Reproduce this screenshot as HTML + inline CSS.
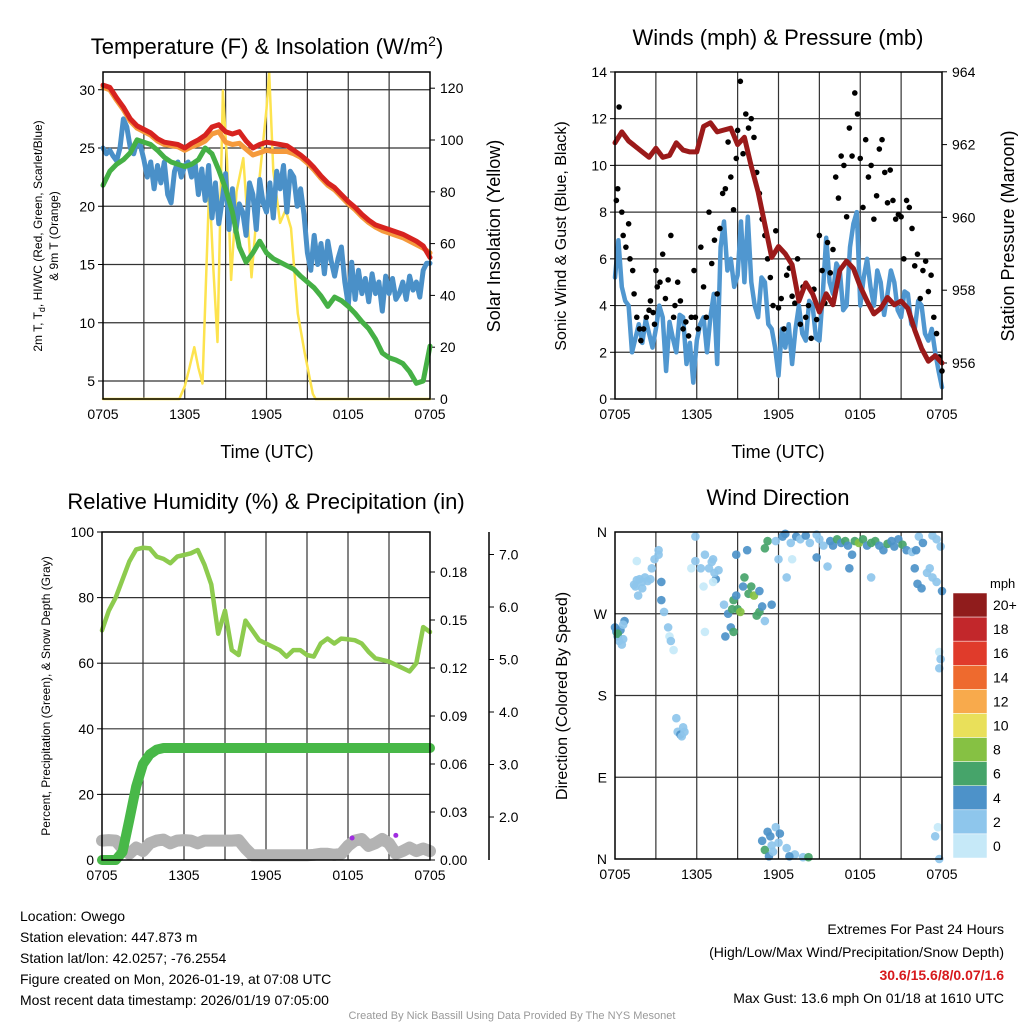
<!DOCTYPE html>
<html><head><meta charset="utf-8"><style>
body{margin:0;background:#fff;}
svg text{font-family:"Liberation Sans",sans-serif;fill:#000;}
</style></head><body>
<svg id="c" width="1024" height="1024" viewBox="0 0 1024 1024" xmlns="http://www.w3.org/2000/svg">
<rect width="1024" height="1024" fill="#fff"/>
<text x="267" y="54" font-size="22" text-anchor="middle">Temperature (F) &amp; Insolation (W/m<tspan dy="-8" font-size="14">2</tspan><tspan dy="8">)</tspan></text>
<text x="778" y="45" font-size="22" text-anchor="middle">Winds (mph) &amp; Pressure (mb)</text>
<text x="266" y="509" font-size="22" text-anchor="middle">Relative Humidity (%) &amp; Precipitation (in)</text>
<text x="778" y="505" font-size="22" text-anchor="middle">Wind Direction</text>
<text x="267" y="458" font-size="18" text-anchor="middle">Time (UTC)</text>
<text x="778" y="458" font-size="18" text-anchor="middle">Time (UTC)</text>
<text transform="translate(42,236) rotate(-90)" font-size="12" text-anchor="middle">2m T, T<tspan dy="3" font-size="9">d</tspan><tspan dy="-3">, HI/WC (Red, Green, Scarlet/Blue)</tspan></text>
<text transform="translate(58,236) rotate(-90)" font-size="12" text-anchor="middle">&amp; 9m T (Orange)</text>
<text transform="translate(500,236) rotate(-90)" font-size="18" text-anchor="middle">Solar Insolation (Yellow)</text>
<text transform="translate(566,236) rotate(-90)" font-size="16" text-anchor="middle">Sonic Wind &amp; Gust (Blue, Black)</text>
<text transform="translate(1014,236) rotate(-90)" font-size="18" text-anchor="middle">Station Pressure (Maroon)</text>
<text transform="translate(50,696) rotate(-90)" font-size="12" text-anchor="middle">Percent, Precipitation (Green), &amp; Snow Depth (Gray)</text>
<text transform="translate(567,696) rotate(-90)" font-size="16" text-anchor="middle">Direction (Colored By Speed)</text>
<g font-size="14">
<text x="20" y="921">Location: Owego</text>
<text x="20" y="942">Station elevation: 447.873 m</text>
<text x="20" y="963">Station lat/lon: 42.0257; -76.2554</text>
<text x="20" y="984">Figure created on Mon, 2026-01-19, at 07:08 UTC</text>
<text x="20" y="1005">Most recent data timestamp: 2026/01/19 07:05:00</text>
</g>
<g font-size="14" text-anchor="end">
<text x="1004" y="934">Extremes For Past 24 Hours</text>
<text x="1004" y="957">(High/Low/Max Wind/Precipitation/Snow Depth)</text>
<text x="1004" y="980" style="fill:#d7191c;font-weight:bold">30.6/15.6/8/0.07/1.6</text>
<text x="1004" y="1003">Max Gust: 13.6 mph On 01/18 at 1610 UTC</text>
</g>
<text x="512" y="1019" font-size="11" text-anchor="middle" style="fill:#999">Created By Nick Bassill Using Data Provided By The NYS Mesonet</text>
<text x="990" y="588" font-size="13">mph</text>
</svg>
<script>
// ---------- DATA ----------
const halfHours = [0,0.5,1,1.5,2,2.5,3,3.5,4,4.5,5,5.5,6,6.5,7,7.5,8,8.5,9,9.5,10,10.5,11,11.5,12,12.5,13,13.5,14,14.5,15,15.5,16,16.5,17,17.5,18,18.5,19,19.5,20,20.5,21,21.5,22,22.5,23,23.5,24];
const quarterHours = [0,0.25,0.5,0.75,1,1.25,1.5,1.75,2,2.25,2.5,2.75,3,3.25,3.5,3.75,4,4.25,4.5,4.75,5,5.25,5.5,5.75,6,6.25,6.5,6.75,7,7.25,7.5,7.75,8,8.25,8.5,8.75,9,9.25,9.5,9.75,10,10.25,10.5,10.75,11,11.25,11.5,11.75,12,12.25,12.5,12.75,13,13.25,13.5,13.75,14,14.25,14.5,14.75,15,15.25,15.5,15.75,16,16.25,16.5,16.75,17,17.25,17.5,17.75,18,18.25,18.5,18.75,19,19.25,19.5,19.75,20,20.25,20.5,20.75,21,21.25,21.5,21.75,22,22.25,22.5,22.75,23,23.25,23.5,23.75,24];
const timeTickHours = [0,6,12,18,24];
const timeTickLabels = ["0705","1305","1905","0105","0705"];
const tempRed = [30.4,30.2,29.3,28.5,27.5,26.9,26.6,26.3,25.8,25.5,25.4,25.3,25.0,25.4,25.7,26.1,26.8,27.0,26.4,26.2,26.4,25.6,25.0,25.3,25.5,25.4,25.3,25.2,24.8,24.4,23.9,23.3,22.6,22.0,21.6,21.0,20.4,19.9,19.3,18.8,18.4,18.2,18.0,17.8,17.6,17.3,17.0,16.6,15.6];
const tempOrange = [30.2,30.0,29.1,28.3,27.3,26.7,26.4,26.1,25.6,25.3,25.2,25.1,24.8,25.1,25.3,25.6,26.2,26.4,25.5,25.3,25.4,24.9,24.4,24.6,24.8,24.7,24.7,24.7,24.5,24.2,23.7,23.1,22.4,21.8,21.4,20.8,20.2,19.7,19.1,18.6,18.2,17.9,17.7,17.5,17.3,17.0,16.7,16.4,16.0];
const dewGreen = [21.8,23.0,23.6,24.0,24.6,25.7,25.5,25.3,24.8,24.2,23.8,23.6,23.4,23.6,24.0,25.0,24.5,23.1,21.5,19.5,16.5,15.2,16.0,17.0,16.0,15.5,15.2,14.9,14.6,14.0,13.5,13.0,12.3,11.4,12.2,11.9,11.4,10.8,10.1,9.5,8.6,7.4,7.0,6.8,6.5,5.8,4.8,5.0,8.0];
const chillBlue = [25.0,24.5,24.8,24.3,23.9,25.0,27.5,26.8,25.0,24.5,25.6,25.2,24.0,22.5,23.8,21.5,23.5,22.0,23.8,21.0,20.3,23.0,23.8,22.5,23.5,23.8,22.5,23.8,21.0,23.2,20.5,23.5,19.0,22.0,18.5,20.5,22.8,18.0,21.5,17.8,20.2,19.5,17.5,22.0,21.0,18.0,22.3,20.3,19.5,22.0,19.0,23.0,21.5,23.5,19.5,23.0,22.5,20.0,21.5,19.3,16.0,14.5,17.5,15.0,16.8,14.2,17.0,15.3,14.0,15.5,16.5,13.5,11.5,15.2,12.0,14.5,12.5,13.8,11.8,14.2,12.5,13.5,11.0,14.0,12.5,13.8,12.0,12.5,13.5,12.0,14.0,12.8,13.5,12.2,14.5,15.1,15.1];
const insolHours = [0,5.6,6.0,6.3,6.7,7.0,7.3,7.8,8.1,8.4,8.8,9.1,9.4,9.8,10.3,10.6,10.9,11.5,12.0,12.2,12.5,13.0,13.4,13.8,14.3,14.8,15.4,15.6,24];
const insolValues = [0,0,5,11,20,12,6,83,50,22,119,92,46,80,93,70,47,86,112,126,88,68,73,66,33,18,2,0,0];
const tempTicks = [5,10,15,20,25,30];
const insolTicks = [0,20,40,60,80,100,120];

const pressure = [962.05,962.35,962.1,961.95,961.8,961.65,961.9,961.65,961.7,962.05,961.85,961.8,961.8,962.5,962.6,962.35,962.4,962.45,962.0,962.2,961.4,960.7,959.8,958.9,959.2,959.0,958.7,957.7,958.2,957.9,957.4,957.9,957.6,958.55,958.8,958.6,958.1,957.7,957.35,957.5,957.8,957.6,957.7,957.5,956.9,956.4,956.05,956.2,956.0];
const windSpeed = [5.2,6.8,4.8,4.2,4.0,2.0,2.6,3.2,2.4,3.4,2.8,2.2,3.0,4.0,3.5,1.2,3.3,2.6,2.0,3.6,3.5,1.5,2.4,0.7,2.5,3.2,3.5,2.0,3.5,4.5,1.5,6.5,7.6,5.5,6.0,4.8,5.3,7.6,5.0,7.8,5.0,4.0,3.5,5.2,5.0,3.2,3.0,2.2,1.0,3.0,2.2,3.2,1.5,3.0,4.0,2.8,2.5,4.2,4.0,2.6,2.5,4.5,6.9,5.0,4.5,5.8,5.5,3.8,4.0,6.5,7.5,8.0,4.0,5.2,6.0,4.8,4.0,5.5,5.0,3.6,4.5,5.5,5.0,3.8,3.5,4.6,4.5,3.2,3.0,4.2,4.0,2.8,2.5,3.0,2.0,1.2,0.5];
const gustHours = [0.1,0.2,0.3,0.5,0.6,0.8,1.0,1.1,1.3,1.4,1.6,1.8,1.9,2.1,2.3,2.5,2.6,2.8,2.9,3.0,3.1,3.3,3.5,3.7,3.9,4.1,4.3,4.4,4.6,4.8,5.0,5.2,5.4,5.6,5.8,5.9,6.1,6.3,6.5,6.7,6.9,7.1,7.3,7.5,7.7,7.9,8.1,8.3,8.5,8.7,8.9,9.0,9.2,9.4,9.6,9.8,10.0,10.2,10.4,10.6,10.8,11.0,11.2,11.4,11.6,11.8,12.0,12.2,12.4,12.6,12.8,13.0,13.2,13.4,13.6,13.8,14.0,14.2,14.4,14.6,14.8,15.0,15.2,15.4,15.6,15.8,16.0,16.2,16.4,16.6,16.8,17.0,17.2,17.4,17.6,17.8,18.0,18.2,18.4,18.6,18.8,19.0,19.2,19.4,19.6,19.8,20.0,20.2,20.4,20.6,20.8,21.0,21.2,21.4,21.6,21.8,22.0,22.2,22.4,22.6,22.8,23.0,23.2,23.4,23.6,23.8,24.0];
const gustValues = [8.5,9.0,12.5,8.0,7.0,6.5,7.5,6.0,5.5,4.5,3.5,3.0,2.5,3.0,3.5,3.8,4.2,3.7,3.2,5.5,4.8,5.0,6.2,4.3,5.1,7.0,3.5,4.0,5.0,4.2,3.0,3.3,2.7,3.5,5.5,3.5,3.0,6.5,4.8,3.5,8.0,5.8,6.8,4.5,7.3,8.8,9.0,11.0,9.5,8.1,10.3,11.5,13.6,10.5,12.2,11.6,12.0,11.2,9.7,8.8,7.7,7.0,6.0,5.2,4.0,7.2,3.9,4.3,3.0,5.3,5.6,4.4,4.1,6.0,3.2,4.8,3.5,4.0,2.6,4.7,3.4,7.0,5.5,4.1,6.7,5.4,6.4,9.5,8.6,10.4,10.0,7.8,11.6,10.4,13.1,12.2,10.3,8.2,11.1,9.5,10.0,7.7,8.7,10.7,11.1,9.7,8.4,9.8,8.5,7.7,7.9,7.8,6.0,8.5,8.2,7.3,5.7,6.2,4.3,5.5,5.9,4.6,5.3,3.5,2.8,1.8,1.2];
const windTicks = [0,2,4,6,8,10,12,14];
const pressureTicks = [956,958,960,962,964];

const humidity = [70,76,80,85.5,91,94.7,95.2,95,92.5,91.8,90.5,92.5,93,93.5,94.5,90,84,69,76,64,62.5,73,70,67,66,65,64,62,64,64,62.5,62,66,67.5,66,67.5,67.3,67,66,63.5,61.5,61,60.5,59.5,58.5,57.5,60,71,69.5];
const precip = [0,0,0,0.005,0.025,0.046,0.06,0.066,0.069,0.07,0.07,0.07,0.07,0.07,0.07,0.07,0.07,0.07,0.07,0.07,0.07,0.07,0.07,0.07,0.07,0.07,0.07,0.07,0.07,0.07,0.07,0.07,0.07,0.07,0.07,0.07,0.07,0.07,0.07,0.07,0.07,0.07,0.07,0.07,0.07,0.07,0.07,0.07,0.07];
const snowDepth = [1.55,1.56,1.55,1.4,1.3,1.42,1.35,1.5,1.55,1.57,1.5,1.55,1.56,1.55,1.5,1.55,1.55,1.55,1.55,1.55,1.56,1.4,1.27,1.27,1.27,1.27,1.27,1.27,1.27,1.27,1.27,1.28,1.3,1.3,1.28,1.3,1.45,1.55,1.58,1.45,1.5,1.58,1.5,1.3,1.35,1.42,1.35,1.4,1.35];
const snowMarkHours = [18.3,21.5];
const snowMarkDepths = [1.6,1.65];
const humidityTicks = [0,20,40,60,80,100];
const precipTicks = [0,0.03,0.06,0.09,0.12,0.15,0.18];
const snowTicks = [2,3,4,5,6,7];

const dirHours = [0,0.1,0.2,0.3,0.4,0.5,0.2,0.6,0.7,0.6,1.4,1.6,1.8,2.0,2.2,2.4,2.0,1.7,1.5,2.6,1.6,2.7,2.9,3.2,3.2,3.4,3.4,3.6,3.9,4.0,4.1,4.3,4.5,4.6,4.8,4.9,5.1,5.0,5.9,5.9,6.6,6.3,6.9,7.1,7.4,7.3,7.6,7.2,6.5,5.6,6.6,7.2,8.0,8.3,8.5,8.6,8.7,8.9,9.0,9.2,9.4,9.5,9.8,10.0,10.2,10.4,10.6,10.8,11.0,8.7,8.1,8.9,9.7,11.2,11.0,10.6,11.5,11.8,12.3,12.5,12.9,13.3,13.6,14.0,14.3,14.8,15.0,15.3,15.8,16.0,16.3,16.6,16.9,17.1,17.4,17.6,17.9,18.2,18.5,18.8,19.1,19.4,19.7,20.0,20.3,20.5,20.8,21.1,21.4,21.8,22.1,22.3,22.6,23.3,23.6,23.9,12.0,13.0,12.6,14.8,15.6,17.2,22.0,22.2,22.5,22.9,23.1,23.3,23.6,24.0,18.8,23.8,23.8,23.9,10.8,11.0,11.2,11.4,11.5,11.8,12.0,12.1,12.6,13.2,13.8,12.8,11.3,11.6,14.2,23.7,23.5,23.8];
const dirDegrees = [255,250,245,240,252,236,248,242,262,258,302,307,308,305,310,306,298,290,300,308,328,320,330,340,335,305,285,272,255,245,240,230,155,140,137,135,140,145,355,328,335,320,320,327,308,315,318,330,300,320,250,305,280,270,255,275,285,290,275,272,300,310,292,300,290,268,272,278,262,250,245,335,340,350,342,295,280,350,355,358,348,355,352,356,348,357,352,345,350,345,352,348,350,345,335,350,348,352,345,348,350,345,340,347,350,344,352,346,340,338,340,355,348,356,352,344,330,330,310,332,322,320,320,303,298,315,320,310,305,295,310,228,210,220,20,10,30,25,15,35,18,28,12,5,2,3,3,8,2,35,25,0];
const dirSpeeds = [4,4,4,3,4,3,6,3,4,3,2,2,2,2,2,2,2,2,2,2,1,2,2,2,2,4,4,2,2,1,2,1,2,2,4,2,2,2,2,2,2,2,2,2,4,2,2,2,1,1,1,1,2,4,4,6,6,4,6,8,4,6,6,6,8,6,6,4,2,6,4,4,4,6,6,4,4,2,4,4,2,4,2,4,2,2,2,2,4,4,6,4,6,4,4,6,8,6,4,6,6,4,4,6,4,4,4,6,4,2,4,2,4,2,2,2,2,1,2,4,2,4,4,4,4,2,2,2,2,4,2,1,2,2,4,6,4,4,2,2,2,4,2,2,2,4,4,2,6,1,2,2];
const speedBinLabels = ["0","2","4","6","8","10","12","14","16","18","20+"];
const speedBinColors = ["#c6e9f8","#8ec6ec","#4d92c9","#46a46a","#86c143","#e9e05a","#f8aa4c","#ee6a2e","#e03b2b","#c2272b","#901c1c"];
const dirTickLabels = ["N","E","S","W","N"];
const dirTickDegrees = [0,90,180,270,360];

// ---------- HELPERS ----------
const svg = document.getElementById('c');
const NS = 'http://www.w3.org/2000/svg';
function mk(tag, attrs, parent){ const e=document.createElementNS(NS,tag); for(const k in attrs) e.setAttribute(k,attrs[k]); (parent||svg).appendChild(e); return e; }
function linePath(hs, vs, xf, yf){ let d=''; for(let i=0;i<hs.length;i++){ d+=(i?'L':'M')+xf(hs[i]).toFixed(1)+','+yf(vs[i]).toFixed(1);} return d; }
function txt(x,y,s,size,anchor,parent){ const t=mk('text',{x:x,y:y,'font-size':size,'text-anchor':anchor},parent); t.textContent=s; return t; }

function frame(p, name){
  const g=mk('g',{});
  
  
  for(let h=3;h<24;h+=3){
    const l=mk('line',{x1:p.x(h),x2:p.x(h),y1:p.y0,y2:p.y1,stroke:'#333','stroke-width':1.2},g);
    
    
  }
  for(let i=0;i<timeTickHours.length;i++){
    const t=txt(p.x(timeTickHours[i]),p.y1+20,timeTickLabels[i],14,'middle',g);
    
    
  }
  return g;
}
function hgrid(g,p,ys){ ys.forEach(y=>{ const l=mk('line',{x1:p.x0,x2:p.x1,y1:y,y2:y,stroke:'#333','stroke-width':1.2},g);
  
   }); }
function border(p){ const r=mk('rect',{x:p.x0,y:p.y0,width:p.x1-p.x0,height:p.y1-p.y0,fill:'none',stroke:'#000','stroke-width':1.5});
  
   }
function yticks(x, vals, yf, fmt, side, g){
  vals.forEach(v=>{ const y=yf(v);
    const tk=mk('line',{x1:x,x2:x+(side<0?-5:5),y1:y,y2:y,stroke:'#000'},g);
    
    
    const t=txt(side<0?x-8:x+10,y+5,fmt(v),14,side<0?'end':'start',g);
    
     });
}
function series(d, color, w, name, g){ const e=mk('path',{d:d,fill:'none',stroke:color,'stroke-width':w,'stroke-linejoin':'round','stroke-linecap':'round'},g);
  
   return e; }

// ---------- PANEL 1 ----------
const p1={x0:103,x1:430,y0:72,y1:399}; p1.x=h=>p1.x0+h/24*(p1.x1-p1.x0);
const tY=v=>381-(v-5)*11.65, sY=v=>399-v*2.59;
const g1=frame(p1,'temperature-panel');
hgrid(g1,p1,tempTicks.map(tY));
yticks(p1.x0,tempTicks,tY,v=>String(v),-1,g1);
yticks(p1.x1,insolTicks,sY,v=>String(v),1,g1);
series(linePath(insolHours,insolValues,p1.x,sY),'#fde34e',2.5,'insolation-line',g1);
series(linePath(quarterHours,chillBlue,p1.x,tY),'#4a90c8',5,'windchill-line',g1);
series(linePath(halfHours,dewGreen,p1.x,tY),'#45b045',5,'dewpoint-line',g1);
series(linePath(halfHours,tempOrange,p1.x,tY),'#f59a3c',5,'temp-9m-line',g1);
series(linePath(halfHours,tempRed,p1.x,tY),'#d7231f',5,'temp-2m-line',g1);
border(p1);

// ---------- PANEL 2 ----------
const p2={x0:615,x1:942,y0:72,y1:399}; p2.x=h=>p2.x0+h/24*(p2.x1-p2.x0);
const wY=v=>399-v*23.36, pY=v=>363-(v-956)*36.4;
const g2=frame(p2,'wind-panel');
hgrid(g2,p2,windTicks.filter(v=>v>0&&v<14).map(wY));
yticks(p2.x0,windTicks,wY,v=>String(v),-1,g2);
yticks(p2.x1,pressureTicks,pY,v=>String(v),1,g2);
series(linePath(quarterHours,windSpeed,p2.x,wY),'#5097d0',4.5,'wind-speed-line',g2);
for(let i=0;i<gustHours.length;i++){
  const c=mk('circle',{cx:p2.x(gustHours[i]),cy:wY(gustValues[i]),r:2.8,fill:'#000'},g2);
  
  
}
series(linePath(halfHours,pressure,p2.x,pY),'#9b1a1a',5,'pressure-line',g2);
border(p2);

// ---------- PANEL 3 ----------
const p3={x0:102,x1:430,y0:532,y1:860}; p3.x=h=>p3.x0+h/24*(p3.x1-p3.x0);
const rY=v=>860-v*3.28, prY=v=>860-v*1600, snY=v=>817-(v-2)*52.5;
const g3=frame(p3,'humidity-panel');
hgrid(g3,p3,humidityTicks.filter(v=>v>0&&v<100).map(rY));
yticks(p3.x0,humidityTicks,rY,v=>String(v),-1,g3);
yticks(p3.x1,precipTicks,prY,v=>v.toFixed(2),1,g3);
const ax2=mk('line',{x1:489,x2:489,y1:p3.y0,y2:p3.y1,stroke:'#000','stroke-width':1.5},g3);


yticks(489,snowTicks,snY,v=>v.toFixed(1),1,g3);
series(linePath(halfHours,snowDepth,p3.x,snY),'#b3b3b3',12,'snow-depth-line',g3);
series(linePath(halfHours,precip,p3.x,prY),'#48b848',10,'precipitation-line',g3);
series(linePath(halfHours,humidity,p3.x,rY),'#8dcb4e',4.5,'humidity-line',g3);
for(let i=0;i<snowMarkHours.length;i++){
  const c=mk('circle',{cx:p3.x(snowMarkHours[i]),cy:snY(snowMarkDepths[i]),r:2.5,fill:'#a02ce0'},g3);
  
  
}
border(p3);

// ---------- PANEL 4 ----------
const p4={x0:615,x1:942,y0:532,y1:859}; p4.x=h=>p4.x0+h/24*(p4.x1-p4.x0);
const dY=v=>p4.y1-v/360*(p4.y1-p4.y0);
const g4=frame(p4,'direction-panel');
hgrid(g4,p4,[90,180,270].map(dY));
for(let i=0;i<dirTickDegrees.length;i++){
  const t=txt(p4.x0-8,dY(dirTickDegrees[i])+5,dirTickLabels[i],14,'end',g4);
  
  
}
for(let i=0;i<dirHours.length;i++){
  const bin=Math.min(10,Math.floor(dirSpeeds[i]/2));
  const c=mk('circle',{cx:p4.x(dirHours[i]),cy:dY(dirDegrees[i]),r:4.3,fill:speedBinColors[bin],'fill-opacity':0.92},g4);
  
  
}
border(p4);

// colorbar
const cb=mk('g',{});


const cbTop=593, cbH=(858-593)/speedBinLabels.length;
for(let i=0;i<speedBinLabels.length;i++){
  const k=speedBinLabels.length-1-i;
  const r=mk('rect',{x:953,y:cbTop+i*cbH,width:34,height:cbH,fill:speedBinColors[k],stroke:'#fff','stroke-width':0.5},cb);
  
  
  const t=txt(993,cbTop+i*cbH+cbH/2+5,speedBinLabels[k],14,'start',cb);
  
  
}
</script>
</body></html>
